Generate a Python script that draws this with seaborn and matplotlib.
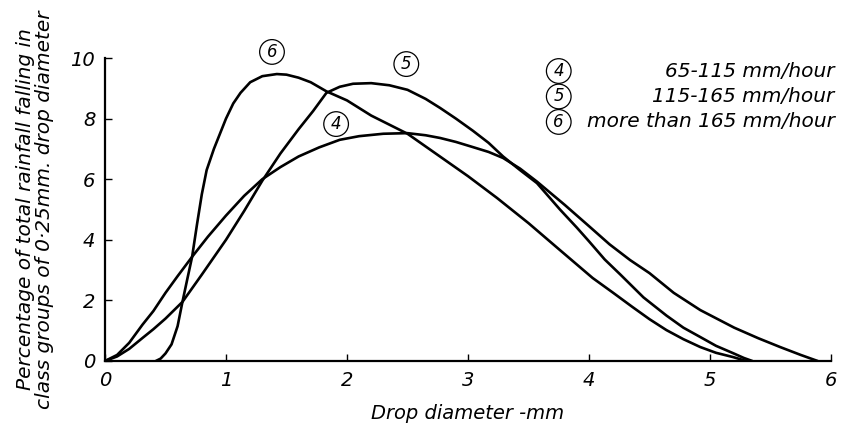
import pandas as pd
import seaborn as sns
import matplotlib
matplotlib.use("Agg")
import matplotlib.pyplot as plt

# =========================
# Data
# =========================
# curve 4 : 65-115 mm/hour
x_4 = [0.0, 0.1, 0.2, 0.31, 0.4, 0.5, 0.6, 0.72, 0.85, 1.0, 1.15, 1.3, 1.45,
       1.6, 1.77, 1.94, 2.1, 2.3, 2.5, 2.65, 2.77, 2.9, 3.04, 3.17, 3.29,
       3.43, 3.57, 3.8, 4.0, 4.17, 4.34, 4.5, 4.7, 4.92, 5.2, 5.4, 5.58,
       5.75, 5.89]
y_4 = [0.0, 0.2, 0.6, 1.2, 1.65, 2.25, 2.8, 3.44, 4.1, 4.8, 5.45, 6.0, 6.4,
       6.75, 7.05, 7.3, 7.42, 7.5, 7.52, 7.45, 7.36, 7.23, 7.06, 6.9, 6.7,
       6.35, 5.92, 5.15, 4.45, 3.85, 3.33, 2.9, 2.25, 1.68, 1.1, 0.75, 0.46,
       0.2, 0.0]

# curve 5 : 115-165 mm/hour
x_5 = [0.0, 0.1, 0.2, 0.31, 0.4, 0.5, 0.64, 0.8, 1.0, 1.15, 1.3, 1.45, 1.6,
       1.72, 1.83, 1.94, 2.05, 2.2, 2.35, 2.5, 2.65, 2.77, 2.9, 3.04, 3.17,
       3.29, 3.43, 3.57, 3.76, 3.9, 4.0, 4.13, 4.26, 4.45, 4.64, 4.78, 4.92,
       5.05, 5.19, 5.28, 5.35]
y_5 = [0.0, 0.15, 0.4, 0.76, 1.05, 1.4, 1.95, 2.85, 4.0, 4.95, 5.95, 6.85,
       7.65, 8.25, 8.85, 9.05, 9.15, 9.17, 9.1, 8.95, 8.65, 8.35, 8.0, 7.6,
       7.2, 6.75, 6.3, 5.87, 5.0, 4.4, 3.95, 3.35, 2.85, 2.1, 1.5, 1.1, 0.79,
       0.5, 0.26, 0.1, 0.0]

# curve 6 : more than 165 mm/hour
x_6 = [0.42, 0.46, 0.5, 0.55, 0.6, 0.64, 0.68, 0.72, 0.76, 0.8, 0.84, 0.9,
       0.95, 1.0, 1.06, 1.12, 1.2, 1.3, 1.42, 1.5, 1.6, 1.7, 1.83, 2.0, 2.2,
       2.5, 2.75, 3.0, 3.24, 3.5, 3.76, 4.03, 4.2, 4.36, 4.5, 4.64, 4.78,
       4.92, 5.05, 5.19, 5.3]
y_6 = [0.0, 0.08, 0.25, 0.55, 1.15, 1.95, 2.7, 3.44, 4.5, 5.5, 6.3, 7.0,
       7.5, 8.0, 8.5, 8.85, 9.2, 9.4, 9.47, 9.45, 9.35, 9.2, 8.9, 8.6, 8.1,
       7.5, 6.8, 6.1, 5.38, 4.55, 3.66, 2.74, 2.25, 1.78, 1.38, 1.02, 0.72,
       0.46, 0.27, 0.13, 0.0]

curve_ids = ["4", "5", "6"]
curve_labels = ["65-115 mm/hour", "115-165 mm/hour", "more than 165 mm/hour"]

x_ticks = [0, 1, 2, 3, 4, 5, 6]
y_ticks = [0, 2, 4, 6, 8, 10]

# long format table for seaborn
df = pd.concat([
    pd.DataFrame({"d": x_4, "pct": y_4, "curve": "4"}),
    pd.DataFrame({"d": x_5, "pct": y_5, "curve": "5"}),
    pd.DataFrame({"d": x_6, "pct": y_6, "curve": "6"}),
])

# =========================
# Plot
# =========================
sns.set_style("ticks")
plt.rcParams["font.family"] = ["DejaVu Sans"]
plt.rcParams["font.style"] = "italic"
plt.rcParams["text.color"] = "black"
plt.rcParams["axes.labelcolor"] = "black"

fig = plt.figure(figsize=(8.45, 4.29), dpi=100)
ax = fig.add_axes([105 / 845, 68 / 429, 726 / 845, 303 / 429])

sns.lineplot(data=df, x="d", y="pct", hue="curve", units="curve",
             estimator=None, sort=False, palette=["black"] * 3,
             linewidth=1.9, legend=False, ax=ax)

ax.set_xlim(0, 6)
ax.set_ylim(0, 10)
ax.set_xticks(x_ticks)
ax.set_yticks(y_ticks)
ax.set_xticklabels([str(t) for t in x_ticks], fontsize=14, style="italic")
ax.set_yticklabels([str(t) for t in y_ticks], fontsize=14, style="italic")
ax.tick_params(direction="in", length=5, width=1, pad=7, colors="black")
sns.despine(ax=ax)
for s in ["left", "bottom"]:
    ax.spines[s].set_linewidth(1.6)
    ax.spines[s].set_color("black")

ax.set_xlabel("Drop diameter -mm", fontsize=14, style="italic", labelpad=10)
ax.set_ylabel("Percentage of total rainfall falling in\n"
              "class groups of 0·25mm. drop diameter",
              fontsize=14.5, style="italic", labelpad=12, linespacing=1.0)

circle = dict(boxstyle="circle,pad=0.2", fc="white", ec="black", lw=0.9)

# circled numbers on the curves
for cid, (cx, cy) in zip(["6", "5", "4"], [(1.38, 10.2), (2.49, 9.8), (1.91, 7.82)]):
    ax.text(cx, cy, cid, fontsize=12, ha="center", va="center",
            style="italic", bbox=circle, clip_on=False)

# key in the upper right
for i, (cid, lab) in enumerate(zip(curve_ids, curve_labels)):
    ky = 9.57 - i * 0.84
    ax.text(3.75, ky, cid, fontsize=12, ha="center", va="center",
            style="italic", bbox=circle, clip_on=False)
    ax.text(6.03, ky, lab, fontsize=14.5, ha="right", va="center",
            style="italic", clip_on=False)

fig.savefig("out.png", dpi=100, facecolor="white")
